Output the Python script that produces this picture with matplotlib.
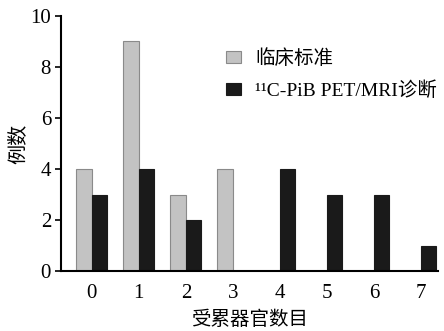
import matplotlib
matplotlib.use("Agg")
import matplotlib.pyplot as plt
import numpy as np

plt.rcParams['font.family'] = ['Liberation Serif', 'Noto Sans CJK SC', 'DejaVu Sans']

categories = ['0', '1', '2', '3', '4', '5', '6', '7']
clinical = [4, 9, 3, 4, 0, 0, 0, 0]
pet_mri = [3, 4, 2, 0, 4, 3, 3, 1]
labels = ['临床标准', '¹¹C-PiB PET/MRI诊断']

fig = plt.figure(figsize=(4.44, 3.31), dpi=100)
ax = fig.add_axes([0.137, 0.181, 0.849, 0.771])

x = np.arange(len(categories))
w = 0.33
ax.bar(x - w/2, clinical, w, color='#c3c3c3', edgecolor='#8a8a8a', linewidth=0.8, label=labels[0])
ax.bar(x + w/2, pet_mri, w, color='#1a1a1a', edgecolor='#1a1a1a', linewidth=0.8, label=labels[1])

ax.set_xlim(-0.66, 7.36)
ax.set_ylim(0, 10)
ax.set_xticks(x)
ax.set_xticklabels(categories)
ax.set_yticks([0, 2, 4, 6, 8, 10])
ax.tick_params(axis='x', length=0, pad=9, labelsize=15)
ax.tick_params(axis='y', length=4, width=1.2, direction='out', pad=3, labelsize=15)
for s in ['top', 'right']:
    ax.spines[s].set_visible(False)
for s in ['left', 'bottom']:
    ax.spines[s].set_linewidth(1.5)

ax.set_xlabel('受累器官数目', fontsize=14, labelpad=6)
ax.set_ylabel('例数', fontsize=14.5)
ax.yaxis.set_label_coords(-0.085, 0.5)

ax.legend(loc='upper right', bbox_to_anchor=(1.045, 0.94), frameon=False, fontsize=14,
          handlelength=0.75, handleheight=0.55, handletextpad=0.75, labelspacing=0.7)

fig.savefig('out.png', dpi=100)
